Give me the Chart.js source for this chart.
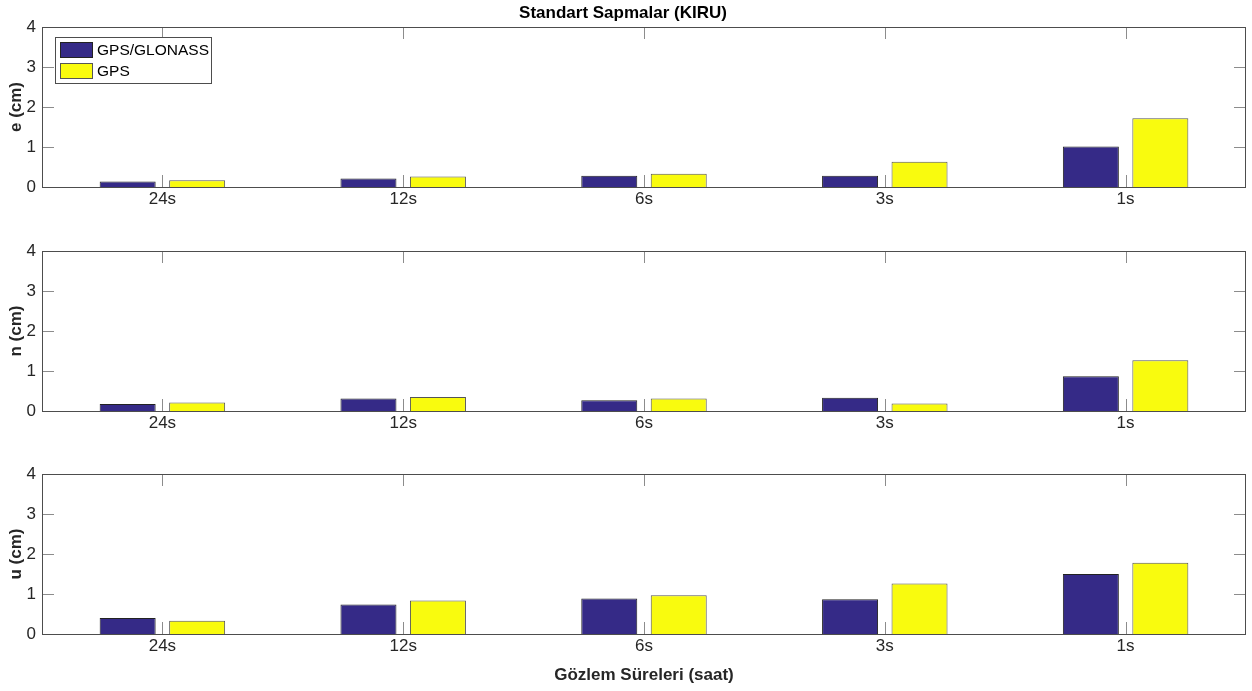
<!DOCTYPE html>
<html><head><meta charset="utf-8">
<script src="https://cdn.jsdelivr.net/npm/chart.js@4.4.0/dist/chart.umd.min.js"></script>
<style>
html,body{margin:0;padding:0;background:#fff;}
#wrap{position:relative;width:1252px;height:691px;overflow:hidden;}
canvas{position:absolute;left:0;}
</style></head><body>
<div id="wrap">
<canvas id="c1" width="1252" height="224" style="top:0px"></canvas>
<canvas id="c2" width="1252" height="224" style="top:224px"></canvas>
<canvas id="c3" width="1252" height="243" style="top:448px"></canvas>
</div>
<script>
const categories = ['24s','12s','6s','3s','1s'];
const seriesNames = ['GPS/GLONASS','GPS'];
const eGlonass = [0.14,0.21,0.28,0.28,1.01];
const eGps     = [0.17,0.26,0.33,0.63,1.72];
const nGlonass = [0.175,0.31,0.27,0.33,0.87];
const nGps     = [0.21,0.35,0.31,0.19,1.27];
const uGlonass = [0.40,0.74,0.89,0.87,1.50];
const uGps     = [0.33,0.84,0.97,1.26,1.78];
const yTicks = [0,1,2,3,4];
const chartTitle = 'Standart Sapmalar (KIRU)';
const xTitle = 'Gözlem Süreleri (saat)';

const FONT = "'Liberation Sans', Arial, Helvetica, sans-serif";
const BLUE = '#352a87', YELLOW = '#f9fb0e';

const boxPlugin = {
  id: 'matBox',
  afterDatasetsDraw(chart) {
    const {ctx, chartArea: a, scales: {x, y}} = chart;
    ctx.save();
    const L = 12;
    ctx.strokeStyle = '#8c8c8c'; ctx.lineWidth = 1;
    ctx.beginPath();
    x.ticks.forEach((t, i) => {
      const px = Math.round(x.getPixelForTick(i)) + 0.5;
      ctx.moveTo(px, a.bottom); ctx.lineTo(px, a.bottom - L);
      ctx.moveTo(px, a.top); ctx.lineTo(px, a.top + L);
    });
    y.ticks.forEach((t, i) => {
      const py = Math.round(y.getPixelForTick(i)) + 0.5;
      ctx.moveTo(a.left, py); ctx.lineTo(a.left + L, py);
      ctx.moveTo(a.right, py); ctx.lineTo(a.right - L, py);
    });
    ctx.stroke();
    ctx.strokeStyle = '#4d4d4d';
    ctx.strokeRect(Math.round(a.left) + 0.5, Math.round(a.top) + 0.5,
                   Math.round(a.right - a.left) - 1, Math.round(a.bottom - a.top));
    ctx.restore();
  }
};

const legendPlugin = {
  id: 'boxLegend',
  afterDraw(chart, args, opts) {
    if (!opts || !opts.show) return;
    const {ctx, chartArea: a} = chart;
    const bx = Math.round(a.left) + 13, by = Math.round(a.top) + 10;
    ctx.save();
    ctx.fillStyle = '#fff';
    ctx.fillRect(bx, by, 156, 46);
    ctx.strokeStyle = '#4d4d4d'; ctx.lineWidth = 1;
    ctx.strokeRect(bx + 0.5, by + 0.5, 156, 46);
    ctx.font = '15.5px ' + FONT;
    ctx.textBaseline = 'middle';
    chart.data.datasets.forEach((ds, i) => {
      const sy = by + 5 + i * 21;
      ctx.fillStyle = ds.backgroundColor;
      ctx.fillRect(bx + 5, sy, 33, 16);
      ctx.strokeStyle = ds.borderColor;
      ctx.strokeRect(bx + 5.5, sy + 0.5, 32, 15);
      ctx.fillStyle = '#000';
      ctx.fillText(ds.label, bx + 42, sy + 8.5);
    });
    ctx.restore();
  }
};

function makeChart(id, yLabel, d1, d2, opt) {
  const xScale = {
    type: 'category',
    offset: true,
    grid: {display: false, drawTicks: false},
    border: {display: false},
    ticks: {color: '#262626', font: {family: FONT, size: 17}, padding: 2, autoSkip: false, maxRotation: 0},
    afterFit(s) { s.height = opt.xHeight; }
  };
  if (opt.xTitle) {
    xScale.title = {display: true, text: opt.xTitle, color: '#262626',
      font: {family: FONT, size: 17, weight: 'bold'}, padding: {top: 0, bottom: 5.8}};
  }
  return new Chart(document.getElementById(id), {
    type: 'bar',
    data: {
      labels: categories,
      datasets: [
        {label: seriesNames[0], data: d1, backgroundColor: BLUE, borderColor: '#222', borderWidth: 1,
         categoryPercentage: 0.577, barPercentage: 0.806},
        {label: seriesNames[1], data: d2, backgroundColor: YELLOW, borderColor: '#555', borderWidth: 1,
         categoryPercentage: 0.577, barPercentage: 0.806}
      ]
    },
    options: {
      responsive: false,
      animation: false,
      devicePixelRatio: 1,
      layout: {padding: {top: opt.padTop, right: 6, left: 0, bottom: 0}},
      plugins: {
        legend: {display: false},
        tooltip: {enabled: false},
        title: opt.title ? {display: true, text: opt.title, color: '#000',
          font: {family: FONT, size: 17, weight: 'bold'}, padding: {top: 3, bottom: 3.6}} : {display: false},
        boxLegend: {show: !!opt.legend}
      },
      scales: {
        x: xScale,
        y: {
          type: 'linear', min: 0, max: 4,
          afterBuildTicks(s) { s.ticks = yTicks.map(v => ({value: v})); },
          grid: {display: false, drawTicks: false},
          border: {display: false},
          ticks: {color: '#262626', font: {family: FONT, size: 17}, padding: 6},
          title: {display: true, text: yLabel, color: '#262626',
            font: {family: FONT, size: 17, weight: 'bold'}, padding: {top: 5.8, bottom: 0}},
          afterFit(s) { s.width = 42; }
        }
      }
    },
    plugins: [boxPlugin, legendPlugin]
  });
}

makeChart('c1', 'e (cm)', eGlonass, eGps, {title: chartTitle, padTop: 0, xHeight: 37, legend: true});
makeChart('c2', 'n (cm)', nGlonass, nGps, {padTop: 27, xHeight: 37});
makeChart('c3', 'u (cm)', uGlonass, uGps, {padTop: 26, xHeight: 57, xTitle: xTitle});
</script>
</body></html>
